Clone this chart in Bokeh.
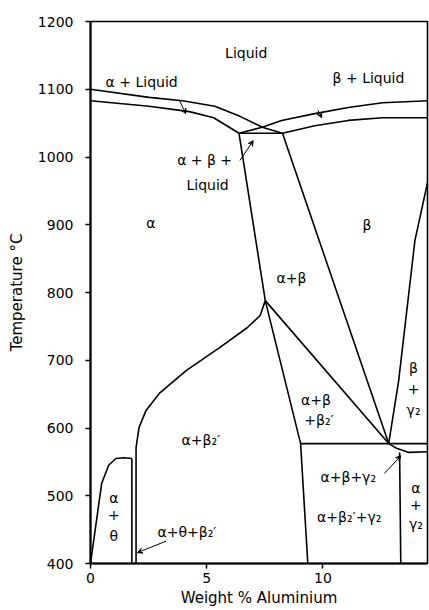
from bokeh.plotting import figure
from bokeh.models import Range1d, FixedTicker, Arrow, VeeHead, ColumnDataSource
from bokeh.embed import file_html
from bokeh.resources import INLINE
from bokeh.core.properties import value

# ---- axis ticks ----
x_ticks = [0, 5, 10]
y_ticks = [400, 500, 600, 700, 800, 900, 1000, 1100, 1200]

# ---- phase boundaries (wt% Al, temperature C) ----
alpha_liquidus_x = [0, 2.52, 3.96, 5.35, 6.43, 7.39, 8.26]
alpha_liquidus_t = [1100, 1088, 1083, 1075, 1060, 1044, 1035]

alpha_solidus_x = [0, 2.52, 4.26, 5.30, 6.39]
alpha_solidus_t = [1083, 1075, 1067, 1058, 1035]

beta_liquidus_x = [14.57, 12.57, 11.09, 9.65, 8.22, 7.39, 6.39]
beta_liquidus_t = [1083, 1080, 1073, 1064, 1054, 1044, 1035]

beta_solidus_x = [14.57, 12.57, 11.09, 9.65, 8.26]
beta_solidus_t = [1058, 1058, 1054, 1046, 1035]

eutectic_x = [6.39, 8.26]
eutectic_t = [1035, 1035]

alpha_solvus_x = [6.39, 7.52]
alpha_solvus_t = [1035, 788]

beta_left_x = [8.26, 12.83]
beta_left_t = [1035, 577]

beta_right_x = [14.57, 13.96, 13.26, 12.83]
beta_right_t = [973, 877, 670, 577]

peak_to_eutectoid_x = [7.52, 12.83]
peak_to_eutectoid_t = [788, 577]

peak_to_floor_x = [7.52, 9.04, 9.35]
peak_to_floor_t = [788, 577, 400]

eutectoid_x = [9.04, 14.57]
eutectoid_t = [577, 577]

lens_x = [12.83, 13.17, 13.70, 14.57]
lens_t = [577, 570, 564, 565]

gamma_vertical_x = [13.30, 13.35]
gamma_vertical_t = [564, 400]

alpha_beta2_x = [7.52, 7.30, 6.74, 5.57, 4.13, 2.96, 2.39, 2.09, 1.96, 1.96, 1.96]
alpha_beta2_t = [788, 766, 748, 719, 685, 651, 626, 601, 571, 537, 400]

theta_right_x = [1.78, 1.78]
theta_right_t = [555, 400]

alpha_theta_x = [0, 0.48, 0.78, 1.09, 1.43, 1.78]
alpha_theta_t = [400, 518, 545, 555, 556, 555]

boundaries = [
    (alpha_liquidus_x, alpha_liquidus_t), (alpha_solidus_x, alpha_solidus_t),
    (beta_liquidus_x, beta_liquidus_t), (beta_solidus_x, beta_solidus_t),
    (eutectic_x, eutectic_t), (alpha_solvus_x, alpha_solvus_t),
    (beta_left_x, beta_left_t), (beta_right_x, beta_right_t),
    (peak_to_eutectoid_x, peak_to_eutectoid_t), (peak_to_floor_x, peak_to_floor_t),
    (eutectoid_x, eutectoid_t), (lens_x, lens_t),
    (gamma_vertical_x, gamma_vertical_t), (alpha_beta2_x, alpha_beta2_t),
    (theta_right_x, theta_right_t), (alpha_theta_x, alpha_theta_t),
]

# ---- region labels ----
label_text = ["Liquid", "α + Liquid", "β + Liquid", "α + β +", "Liquid",
              "α", "β", "α+β", "α+β", "+β₂′", "β", "+", "γ₂",
              "α+β₂′", "α", "+", "θ", "α+θ+β₂′",
              "α+β+γ₂", "α+β₂′+γ₂", "α", "+", "γ₂"]
label_x = [6.7, 2.2, 11.96, 4.91, 5.04,
           2.6, 11.9, 8.65, 9.70, 9.83, 13.9, 13.9, 13.9,
           4.75, 1.0, 1.0, 1.0, 4.15,
           11.09, 11.13, 14.0, 14.0, 14.0]
label_t = [1154, 1111, 1116, 996, 958,
           903, 900, 822, 641, 612, 688, 657, 626,
           582, 497, 471, 441, 447,
           527, 468, 511, 486, 459]

# ---- pointer arrows (start x, start t, end x, end t) ----
arrow_x0 = [3.83, 9.78, 6.43, 3.25, 12.65]
arrow_t0 = [1083, 1069, 995, 433, 533]
arrow_x1 = [4.10, 9.95, 7.00, 2.02, 13.35]
arrow_t1 = [1064, 1058, 1024, 416, 559]

FONT = "DejaVu Sans"

p = figure(width=429, height=610, output_backend="svg", toolbar_location=None,
           x_range=Range1d(0, 14.5), y_range=Range1d(400, 1200),
           min_border_left=90, min_border_top=21, min_border_right=2,
           min_border_bottom=47)

p.xgrid.visible = False
p.ygrid.visible = False
p.outline_line_color = "black"
p.outline_line_width = 1.6
p.background_fill_color = "white"
p.border_fill_color = "white"

for ax in (p.xaxis[0], p.yaxis[0]):
    ax.axis_line_width = 2
    ax.axis_line_color = "black"
    ax.major_tick_line_color = "black"
    ax.major_tick_line_width = 1.5
    ax.major_tick_out = 5
    ax.major_tick_in = 0
    ax.minor_tick_line_color = None
    ax.major_label_text_font = FONT
    ax.major_label_text_font_size = "14px"
    ax.major_label_text_color = "black"
    ax.axis_label_text_font = FONT
    ax.axis_label_text_font_size = "15px"
    ax.axis_label_text_font_style = "normal"
    ax.axis_label_text_color = "black"

p.xaxis.ticker = FixedTicker(ticks=x_ticks)
p.yaxis.ticker = FixedTicker(ticks=y_ticks)
p.xaxis.axis_label = "Weight % Aluminium"
p.yaxis.axis_label = "Temperature °C"
p.xaxis.major_label_standoff = 4
p.xaxis.axis_label_standoff = 3
p.yaxis.major_label_standoff = 12
p.yaxis.axis_label_standoff = 9

for xs, ts in boundaries:
    p.line(xs, ts, line_color="black", line_width=1.6)

src = ColumnDataSource(dict(x=label_x, y=label_t, text=label_text))
p.text(x="x", y="y", text="text", source=src, text_font=value(FONT),
       text_font_size="14px", text_align="center", text_baseline="middle",
       text_color="black")

for x0, t0, x1, t1 in zip(arrow_x0, arrow_t0, arrow_x1, arrow_t1):
    p.add_layout(Arrow(end=VeeHead(size=5, line_color="black", line_width=1),
                       x_start=x0, y_start=t0, x_end=x1, y_end=t1,
                       line_color="black", line_width=1))

open("out.html", "w").write(file_html(p, INLINE))
